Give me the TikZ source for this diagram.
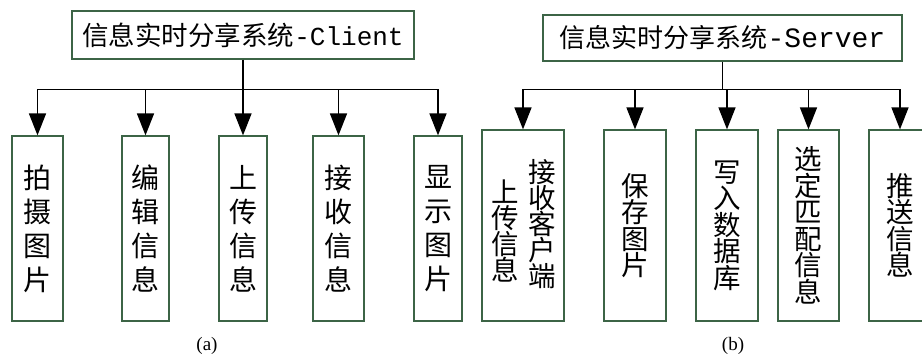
\documentclass[tikz,border=0pt]{standalone}
\usepackage{fontspec}
\setmainfont{Liberation Serif}
\newfontfamily\cjk{Noto Sans CJK SC}
\newfontfamily\monolat{Liberation Mono}
\usetikzlibrary{arrows.meta}
\definecolor{boxgreen}{HTML}{3C6446}
\begin{document}
\begin{tikzpicture}[x=1pt,y=-1pt,
  titlebox/.style={draw=boxgreen, line width=1.2pt, inner sep=0pt, fill=white},
  boxa/.style={draw=boxgreen, line width=1.2pt, inner sep=0pt, align=center,
    font=\cjk\fontsize{28}{34}\selectfont},
  boxb/.style={draw=boxgreen, line width=1.2pt, inner sep=0pt, align=center,
    font=\cjk\fontsize{27.5}{26.5}\selectfont},
  coltext/.style={inner sep=0pt, align=center, font=\cjk\fontsize{27.5}{26}\selectfont},
  link/.style={line width=1.4pt, black},
  conn/.style={line width=1.4pt, black, -{Triangle[length=22pt,width=17pt]}},
  caplabel/.style={font=\fontsize{19}{22}\selectfont}]
\useasboundingbox (0,0) rectangle (922,357);

% ---- (a) Client ----
\node[titlebox, minimum width=342pt, minimum height=48pt] (ta) at (243,35)
  {\cjk\fontsize{26.5}{30}\selectfont 信息实时分享系统\monolat\fontsize{26}{30}\selectfont -Client};
\node[boxa, minimum width=51pt, minimum height=185pt] (a1) at (37.5,228.5) {拍\\摄\\图\\片};
\node[boxa, minimum width=47pt, minimum height=185pt] (a2) at (145.5,228.5) {编\\辑\\信\\息};
\node[boxa, minimum width=48pt, minimum height=185pt] (a3) at (243,228.5) {上\\传\\信\\息};
\node[boxa, minimum width=51pt, minimum height=185pt] (a4) at (338.5,228.5) {接\\收\\信\\息};
\node[boxa, minimum width=48pt, minimum height=185pt] (a5) at (438,228.5) {显\\示\\图\\片};

\path (ta.south) ++(0,30) coordinate (ja);
\draw[link] (ta.south) -- (ja);
\foreach \b in {a1,a2,a3,a4,a5} \draw[conn] (ja) -| (\b.north);

\node[caplabel] (capa) at (207,346) {(a)};

% ---- (b) Server ----
\node[titlebox, minimum width=359pt, minimum height=46pt] (tb) at (722.5,38)
  {\cjk\fontsize{26}{30}\selectfont 信息实时分享系统\monolat\fontsize{28}{30}\selectfont -Server};
\node[boxb, minimum width=82pt, minimum height=191pt] (b1) at (523,225.5) {};
\node[coltext] (b1r) at (542,224) {接\\收\\客\\户\\端};
\node[coltext] (b1l) at (505,231) {上\\传\\信\\息};
\node[boxb, minimum width=62pt, minimum height=191pt] (b2) at (635,225.5) {保\\存\\图\\片};
\node[boxb, minimum width=62pt, minimum height=191pt] (b3) at (727,225.5) {写\\入\\数\\据\\库};
\node[boxb, minimum width=61pt, minimum height=191pt] (b4) at (808.5,225.5) {选\\定\\匹\\配\\信\\息};
\node[boxb, minimum width=62pt, minimum height=191pt] (b5) at (900,225.5) {推\\送\\信\\息};

\path (tb.south) ++(0,28) coordinate (jb);
\draw[link] (tb.south) -- (jb);
\foreach \b in {b1,b2,b3,b4,b5} \draw[conn] (jb) -| (\b.north);

\node[caplabel] (capb) at (733,346) {(b)};
\end{tikzpicture}
\end{document}
